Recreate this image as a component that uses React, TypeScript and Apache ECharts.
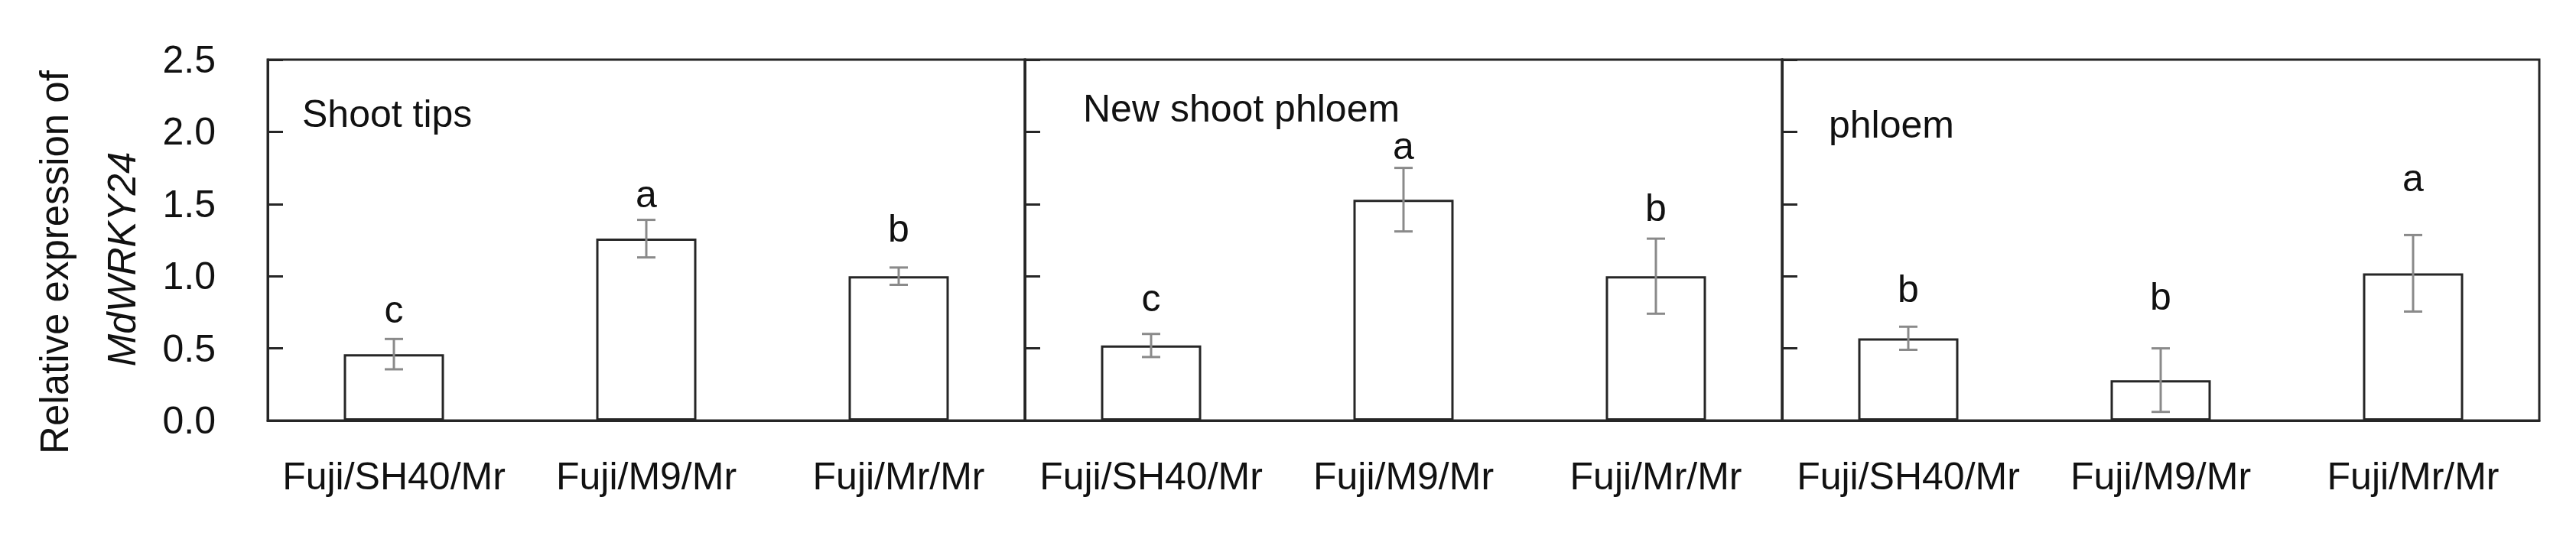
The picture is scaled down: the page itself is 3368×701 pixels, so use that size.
import React, { useEffect, useRef } from "react";
import * as echarts from "echarts";

const categories = ["Fuji/SH40/Mr", "Fuji/M9/Mr", "Fuji/Mr/Mr"];
const panelTitles = ["Shoot tips", "New shoot phloem", "phloem"];

const shootTipsMean = [0.46, 1.26, 1.0];
const shootTipsErr = [0.105, 0.13, 0.06];
const newShootMean = [0.52, 1.53, 1.0];
const newShootErr = [0.08, 0.22, 0.26];
const phloemMean = [0.57, 0.28, 1.02];
const phloemErr = [0.08, 0.22, 0.265];

const shootTipsLetters = ["c", "a", "b"];
const newShootLetters = ["c", "a", "b"];
const phloemLetters = ["b", "b", "a"];
const shootTipsLetterY = [0.77, 1.57, 1.33];
const newShootLetterY = [0.85, 1.9, 1.47];
const phloemLetterY = [0.91, 0.86, 1.68];

const yMin = 0;
const yMax = 2.5;
const yInterval = 0.5;

const FONT = "'Liberation Sans', Arial, Helvetica, sans-serif";
const AXIS_COLOR = "#262626";
const TEXT_COLOR = "#111111";
const ERR_COLOR = "#8a8a8a";

export default function App() {
  const ref = useRef<HTMLDivElement>(null);

  useEffect(() => {
    if (!ref.current) return;
    const chart = echarts.init(ref.current, undefined, { renderer: "svg" });

    const means = [shootTipsMean, newShootMean, phloemMean];
    const errs = [shootTipsErr, newShootErr, phloemErr];
    const letters = [shootTipsLetters, newShootLetters, phloemLetters];
    const letterYs = [shootTipsLetterY, newShootLetterY, phloemLetterY];

    const gridLefts = [350, 1340, 2330];
    const grids = gridLefts.map((l) => ({
      left: l,
      top: 78,
      width: 990,
      height: 472,
      show: true,
      borderColor: AXIS_COLOR,
      borderWidth: 3,
      backgroundColor: "transparent",
    }));

    const xAxes = gridLefts.map((_, i) => ({
      type: "category",
      gridIndex: i,
      data: categories,
      axisTick: { show: false },
      axisLine: { show: true, lineStyle: { color: AXIS_COLOR, width: 3 } },
      axisLabel: {
        interval: 0,
        fontSize: 50,
        color: TEXT_COLOR,
        fontFamily: FONT,
        margin: 48,
      },
    }));

    const yAxes = gridLefts.map((_, i) => ({
      type: "value",
      gridIndex: i,
      min: yMin,
      max: yMax,
      interval: yInterval,
      splitLine: { show: false },
      axisLine: { show: true, lineStyle: { color: AXIS_COLOR, width: 3 } },
      axisTick: { show: true, inside: true, length: 20, lineStyle: { color: AXIS_COLOR, width: 3 } },
      axisLabel: {
        show: i === 0,
        fontSize: 50,
        color: TEXT_COLOR,
        fontFamily: FONT,
        margin: 68,
        formatter: (v: number) => v.toFixed(1),
      },
    }));

    const series: any[] = [];
    for (let p = 0; p < 3; p++) {
      series.push({
        type: "bar",
        xAxisIndex: p,
        yAxisIndex: p,
        data: means[p],
        barWidth: 131,
        itemStyle: { color: "#ffffff", borderColor: AXIS_COLOR, borderWidth: 3 },
        z: 2,
      });
      series.push({
        type: "custom",
        xAxisIndex: p,
        yAxisIndex: p,
        z: 3,
        data: means[p].map((m, i) => [i, m - errs[p][i], m + errs[p][i]]),
        encode: { x: 0, y: [1, 2] },
        renderItem: (params: any, api: any) => {
          const x = api.value(0);
          const top = api.coord([x, api.value(2)]);
          const bot = api.coord([x, api.value(1)]);
          const hw = 12;
          const st = { stroke: ERR_COLOR, lineWidth: 3 };
          return {
            type: "group",
            children: [
              { type: "line", shape: { x1: top[0], y1: top[1], x2: bot[0], y2: bot[1] }, style: st },
              { type: "line", shape: { x1: top[0] - hw, y1: top[1], x2: top[0] + hw, y2: top[1] }, style: st },
              { type: "line", shape: { x1: bot[0] - hw, y1: bot[1], x2: bot[0] + hw, y2: bot[1] }, style: st },
            ],
          };
        },
      });
      series.push({
        type: "scatter",
        xAxisIndex: p,
        yAxisIndex: p,
        z: 4,
        symbolSize: 1,
        itemStyle: { color: "rgba(0,0,0,0)", opacity: 1 },
        data: letterYs[p].map((y, i) => ({ value: [i, y], name: letters[p][i] })),
        label: {
          show: true,
          position: "inside",
          formatter: (d: any) => d.name,
          fontSize: 50,
          color: TEXT_COLOR,
          opacity: 1,
          fontFamily: FONT,
        },
      });
    }

    const titlePos = [
      [395, 149],
      [1416, 142],
      [2391, 163],
    ];

    const graphic: any[] = panelTitles.map((t, i) => ({
      type: "text",
      x: titlePos[i][0],
      y: titlePos[i][1],
      style: {
        text: t,
        font: `50px ${FONT}`,
        fill: TEXT_COLOR,
        textAlign: "left",
        textVerticalAlign: "middle",
      },
    }));
    graphic.push({
      type: "text",
      x: 71,
      y: 343,
      rotation: Math.PI / 2,
      style: {
        text: "Relative expression of",
        font: `51px ${FONT}`,
        fill: TEXT_COLOR,
        textAlign: "center",
        textVerticalAlign: "middle",
      },
    });
    graphic.push({
      type: "text",
      x: 159,
      y: 339,
      rotation: Math.PI / 2,
      style: {
        text: "MdWRKY24",
        font: `italic 51px ${FONT}`,
        fill: TEXT_COLOR,
        textAlign: "center",
        textVerticalAlign: "middle",
      },
    });

    chart.setOption({
      animation: false,
      backgroundColor: "#ffffff",
      textStyle: { fontFamily: FONT },
      grid: grids,
      xAxis: xAxes,
      yAxis: yAxes,
      series,
      graphic,
    });

    return () => chart.dispose();
  }, []);

  return (
    <div
      ref={ref}
      style={{ position: "absolute", left: 0, top: 0, width: 3368, height: 701 }}
    />
  );
}
